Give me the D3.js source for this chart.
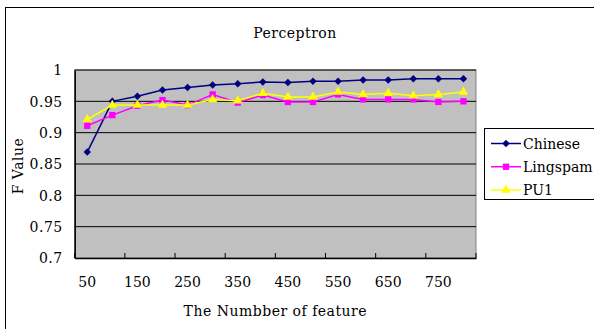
<!DOCTYPE html>
<html>
<head>
<meta charset="utf-8">
<script src="https://cdn.jsdelivr.net/npm/d3@7"></script>
<style>
  body { margin: 0; background: #fff; }
  svg text { font-family: "DejaVu Serif", serif !important; fill: #000; }
</style>
</head>
<body>
<div id="chart"></div>
<script>
var features = [50, 100, 150, 200, 250, 300, 350, 400, 450, 500, 550, 600, 650, 700, 750, 800];
var chinese  = [0.869, 0.950, 0.958, 0.968, 0.972, 0.976, 0.978, 0.981, 0.980, 0.982, 0.982, 0.984, 0.984, 0.986, 0.986, 0.986];
var lingspam = [0.911, 0.928, 0.943, 0.952, 0.944, 0.961, 0.948, 0.960, 0.949, 0.949, 0.961, 0.953, 0.953, 0.953, 0.949, 0.950];
var pu1      = [0.921, 0.944, 0.944, 0.944, 0.944, 0.953, 0.951, 0.963, 0.957, 0.957, 0.965, 0.961, 0.963, 0.959, 0.961, 0.965];
var yTicks = [0.7, 0.75, 0.8, 0.85, 0.9, 0.95, 1];
var xLabels = [50, 150, 250, 350, 450, 550, 650, 750];

const WIDTH = 594;
const HEIGHT = 329;
const PLOT = {left: 74.7, right: 476, top: 70, bottom: 258};

// rot: extra rotation so the square becomes a diamond
var series = [
    {name: "Chinese",  values: chinese,  color: "#000080", symbol: d3.symbolSquare,   size: 28, rot: 45},
    {name: "Lingspam", values: lingspam, color: "#FF00FF", symbol: d3.symbolSquare,   size: 40, rot: 0},
    {name: "PU1",      values: pu1,      color: "#FFFF00", symbol: d3.symbolTriangle, size: 38, rot: 0}
];

var svg = d3.select("#chart")
    .append("svg")
    .attr("width", WIDTH)
    .attr("height", HEIGHT);

// outer chart border (only left/top visible)
svg.append("rect")
    .attr("x", 5.5).attr("y", 7.5)
    .attr("width", WIDTH + 10).attr("height", HEIGHT + 10)
    .attr("fill", "#fff")
    .attr("stroke", "#000");

var xScale = d3.scaleBand().domain(features).range([PLOT.left, PLOT.right]),
    yScale = d3.scaleLinear().domain([0.7, 1]).range([PLOT.bottom, PLOT.top]);

// plot area
svg.append("rect")
    .attr("x", PLOT.left).attr("y", PLOT.top)
    .attr("width", PLOT.right - PLOT.left).attr("height", PLOT.bottom - PLOT.top)
    .attr("fill", "#C0C0C0")
    .attr("stroke", "#808080");

// gridlines
svg.append("g")
    .selectAll("line")
    .data(yTicks.slice(1))
    .enter()
    .append("line")
    .attr("x1", PLOT.left).attr("x2", PLOT.right)
    .attr("y1", d => yScale(d)).attr("y2", d => yScale(d))
    .attr("stroke", "#000");

// y axis
var yAxis = svg.append("g")
    .attr("transform", "translate(" + PLOT.left + ",0)")
    .call(d3.axisLeft(yScale).tickValues(yTicks).tickSize(0).tickPadding(12)
        .tickFormat(d => String(+d.toFixed(2))));
yAxis.attr("font-family", null);
yAxis.select(".domain").attr("stroke", "#000").attr("stroke-width", 1.5);
yAxis.selectAll("text")
    .style("font-size", "14px")
    .style("letter-spacing", "0.5px")
    .attr("dy", "0.35em");

// x axis
var xAxis = svg.append("g")
    .attr("transform", "translate(0," + PLOT.bottom + ")")
    .call(d3.axisBottom(xScale).tickValues(xLabels).tickSize(0).tickPadding(19));
xAxis.attr("font-family", null);
xAxis.select(".domain").attr("stroke", "#000").attr("stroke-width", 1.5);
xAxis.selectAll("text")
    .style("font-size", "14px")
    .style("letter-spacing", "0px");

// inward tick marks at every other category boundary
var tickBounds = features.filter((d, i) => i % 2 === 0).map(d => xScale(d)).concat([PLOT.right]);
svg.append("g")
    .selectAll("line")
    .data(tickBounds)
    .enter()
    .append("line")
    .attr("x1", d => d).attr("x2", d => d)
    .attr("y1", PLOT.bottom).attr("y2", PLOT.bottom - 5)
    .attr("stroke", "#000");

// lines and markers
var line = d3.line()
    .x((d, i) => xScale(features[i]) + xScale.bandwidth() / 2)
    .y(d => yScale(d));

series.forEach(function (s) {
    svg.append("path")
        .datum(s.values)
        .attr("d", line)
        .attr("fill", "none")
        .attr("stroke", s.color)
        .attr("stroke-width", 1.5);
    svg.append("g")
        .selectAll("path")
        .data(s.values)
        .enter()
        .append("path")
        .attr("d", d3.symbol().type(s.symbol).size(s.size))
        .attr("transform", (d, i) => "translate(" + (xScale(features[i]) + xScale.bandwidth() / 2) + "," + yScale(d) + ") rotate(" + s.rot + ")")
        .attr("fill", s.color);
});

// title
svg.append("text")
    .attr("x", 295).attr("y", 38)
    .attr("text-anchor", "middle")
    .style("font-size", "14px")
    .style("letter-spacing", "0.5px")
    .text("Perceptron");

// axis titles
svg.append("text")
    .attr("x", (PLOT.left + PLOT.right) / 2).attr("y", 316)
    .attr("text-anchor", "middle")
    .style("font-size", "14px")
    .style("letter-spacing", "0.5px")
    .text("The Numbber of feature");

svg.append("text")
    .attr("transform", "translate(23,166) rotate(-90)")
    .attr("text-anchor", "middle")
    .style("font-size", "14px")
    .style("letter-spacing", "0.5px")
    .text("F Value");

// legend
var legend = svg.append("g");
legend.append("rect")
    .attr("x", 484.5).attr("y", 128.5)
    .attr("width", 110).attr("height", 71)
    .attr("fill", "#fff")
    .attr("stroke", "#000");

var legendY = d3.scalePoint().domain(series.map(s => s.name)).range([143.5, 190]);
series.forEach(function (s) {
    var yy = legendY(s.name);
    legend.append("line")
        .attr("x1", 491).attr("x2", 521)
        .attr("y1", yy).attr("y2", yy)
        .attr("stroke", s.color)
        .attr("stroke-width", 1.5);
    legend.append("path")
        .attr("d", d3.symbol().type(s.symbol).size(s.size))
        .attr("transform", "translate(506," + yy + ") rotate(" + s.rot + ")")
        .attr("fill", s.color);
    legend.append("text")
        .attr("x", 523).attr("y", yy + 5)
        .style("font-size", "14px")
        .style("letter-spacing", "0px")
        .text(s.name);
});
</script>
</body>
</html>
